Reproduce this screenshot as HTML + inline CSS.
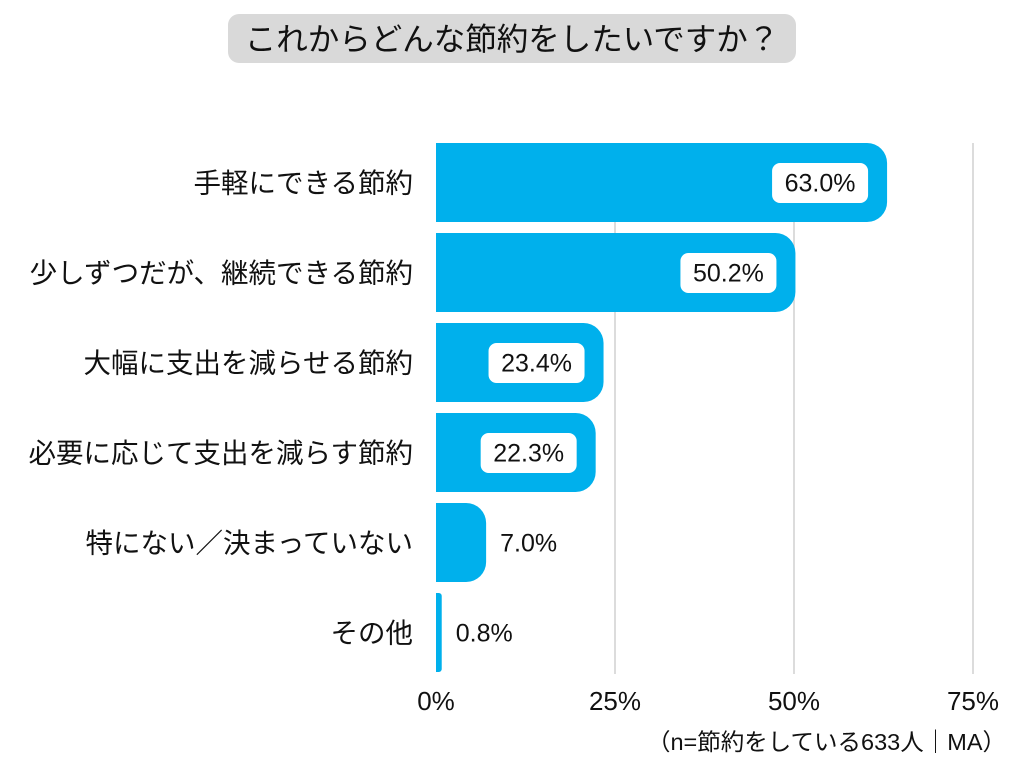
<!DOCTYPE html>
<html><head><meta charset="utf-8"><style>
body{margin:0;background:#fff;}
svg text{font-family:"Liberation Sans","Noto Sans CJK JP",sans-serif;}
</style></head><body>
<svg id="chart" width="1024" height="768">
<rect x="228" y="14" width="568" height="49" rx="11" fill="#d9d9d9"/>
<text x="512" y="50" font-size="31.5" text-anchor="middle" fill="#111">これからどんな節約をしたいですか？</text>
<g id="grid"></g><g id="bars"></g><g id="ticks"></g>
<text x="1006" y="750" font-size="23.5" text-anchor="end" fill="#111">（n=節約をしている633人｜MA）</text>
</svg>
<script>
const categories=["手軽にできる節約","少しずつだが、継続できる節約","大幅に支出を減らせる節約","必要に応じて支出を減らす節約","特にない／決まっていない","その他"];
const values=[63.0,50.2,23.4,22.3,7.0,0.8];
const tickValues=[0,25,50,75];
const ns="http://www.w3.org/2000/svg";
const x0=436,pxPer=(973-436)/75,top0=143,band=90,bh=79;
const xs=v=>x0+v*pxPer;
function mk(t,a,p){const e=document.createElementNS(ns,t);for(const k in a)e.setAttribute(k,a[k]);p.appendChild(e);return e;}
const grid=document.getElementById('grid'),bars=document.getElementById('bars'),ticks=document.getElementById('ticks');
tickValues.forEach(t=>{
  if(t>0){const l=mk('line',{x1:xs(t),x2:xs(t),y1:top0,y2:top0+band*categories.length-9,stroke:'#d0d0d0','stroke-width':1.5},grid);
  
  }
  const tx=mk('text',{x:xs(t),y:710,'font-size':26,'text-anchor':'middle',fill:'#111'},ticks);tx.textContent=t+'%';
  
  
});
categories.forEach((c,i)=>{
  const y=top0+i*band,w=xs(values[i])-x0,r=Math.min(20,w/2);
  const p=mk('path',{d:`M${x0},${y}H${x0+w-r}A${r},${r} 0 0 1 ${x0+w},${y+r}V${y+bh-r}A${r},${r} 0 0 1 ${x0+w-r},${y+bh}H${x0}Z`,fill:'#00b0ec'},bars);
  
  
  const lb=mk('text',{x:413,y:y+bh/2+10,'font-size':27.5,'text-anchor':'end',fill:'#111'},bars);lb.textContent=c;
  
  
  const s=values[i].toFixed(1)+'%';
  if(values[i]>15){
    const bw=96,bx=x0+w-19-bw;
    const b=mk('rect',{x:bx,y:y+20,width:bw,height:40,rx:8,fill:'#fff'},bars);
    
    
    const v=mk('text',{x:bx+bw/2,y:y+bh/2+9,'font-size':25,'text-anchor':'middle',fill:'#111'},bars);v.textContent=s;
    
    
  }else{
    const v=mk('text',{x:x0+w+14,y:y+bh/2+9,'font-size':25,fill:'#111'},bars);v.textContent=s;
    
    
  }
});
</script>
</body></html>
